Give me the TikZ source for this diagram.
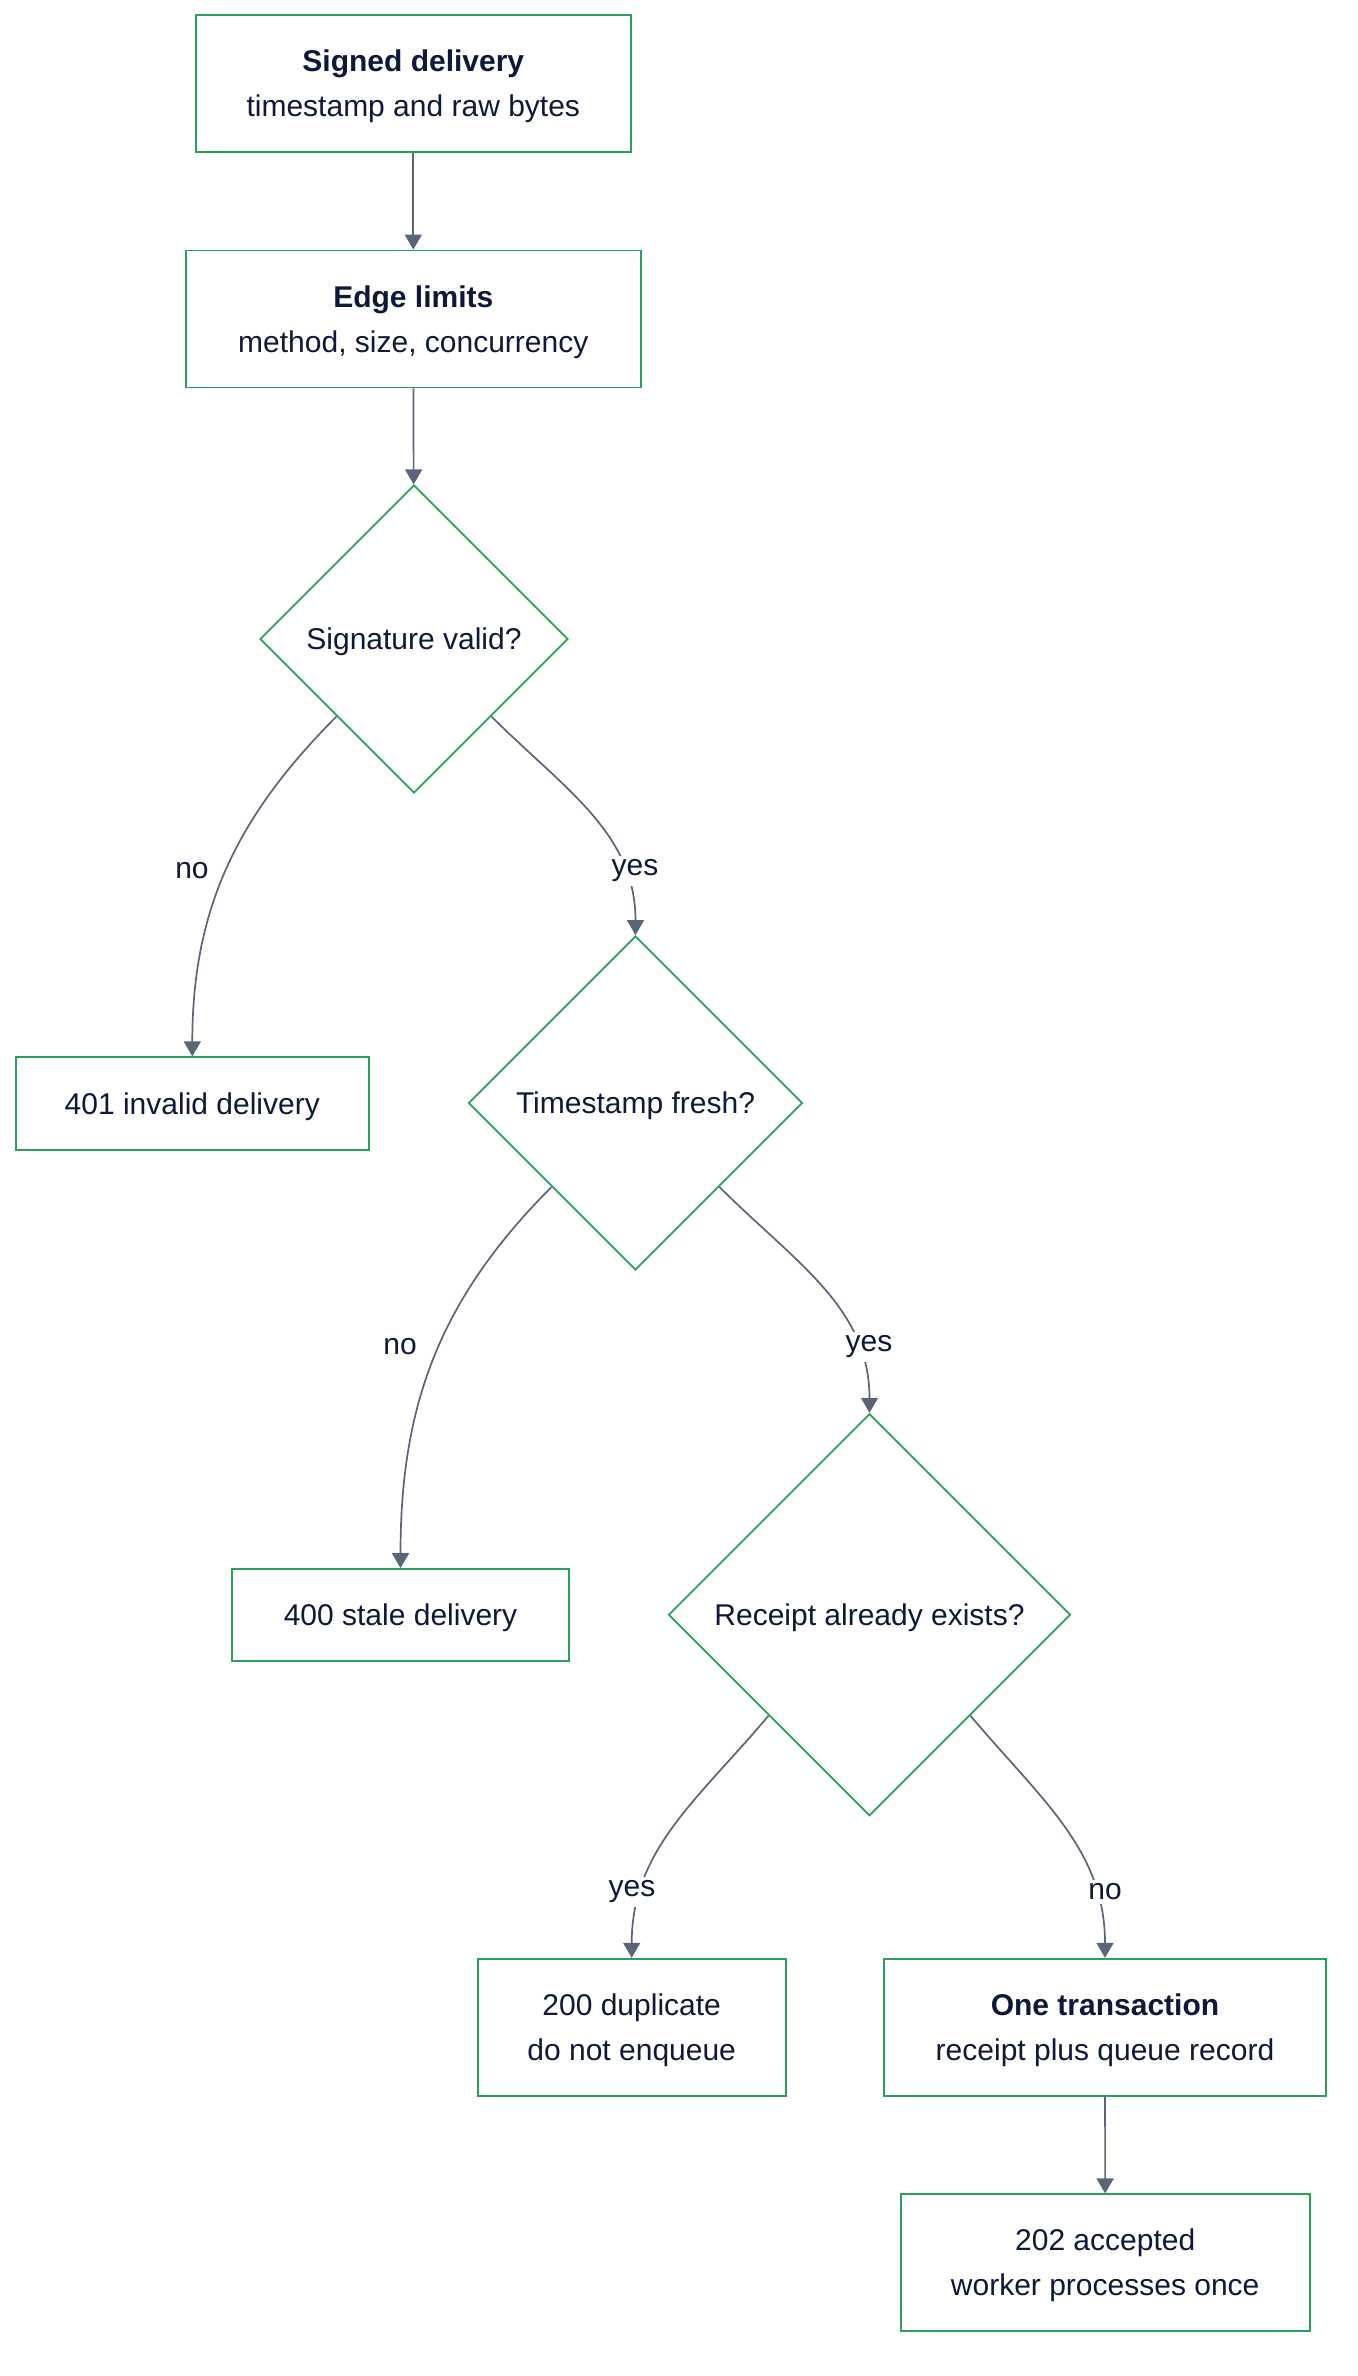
\documentclass[tikz,border=0pt]{standalone}
\usepackage{fontspec}
\setmainfont{Liberation Sans}
\usepackage{xcolor}
\usepackage{tikz}
\usetikzlibrary{shapes,arrows.meta,positioning}

\definecolor{boxgreen}{HTML}{2AA15A}
\definecolor{edgegray}{HTML}{5C6577}
\definecolor{inkblue}{HTML}{0E1838}

\begin{document}
\begin{tikzpicture}[x=0.5pt, y=-0.5pt,
    every node/.style={font=\fontsize{15}{22.5}\selectfont, text=inkblue},
    block/.style={draw=boxgreen, line width=0.9pt, rectangle, align=center, inner sep=0pt, text depth=-1pt},
    check/.style={draw=boxgreen, line width=0.9pt, diamond, aspect=1, inner sep=0pt, text depth=-1pt},
    flow/.style={draw=edgegray, line width=0.85pt, -{Triangle[length=7.5pt, width=8.5pt]}},
    tag/.style={fill=white, inner sep=2pt}]
    \useasboundingbox (0,0) rectangle (1358,2376);

    \node[block, minimum width=217.5pt, minimum height=68.5pt] (signed) at (413.3,83.6) {\textbf{Signed delivery}\\timestamp and raw bytes};
    \node[block, minimum width=227.5pt, minimum height=68.5pt] (limits) at (413.3,319) {\textbf{Edge limits}\\method, size, concurrency};
    \node[check, minimum size=154pt] (sigok) at (414,639) {Signature valid?};
    \node[block, minimum width=176.7pt, minimum height=46.2pt] (bad401) at (192.3,1103.5) {401 invalid delivery};
    \node[check, minimum size=167pt] (fresh) at (635.5,1103) {Timestamp fresh?};
    \node[block, minimum width=168.8pt, minimum height=46pt] (stale400) at (400.5,1615) {400 stale delivery};
    \node[check, minimum size=201pt] (receipt) at (869.5,1614.7) {Receipt already exists?};
    \node[block, minimum width=154pt, minimum height=68.5pt] (dup200) at (631.7,2027.2) {200 duplicate\\do not enqueue};
    \node[block, minimum width=221.3pt, minimum height=68.5pt] (txn) at (1105,2027.2) {\textbf{One transaction}\\receipt plus queue record};
    \node[block, minimum width=204.5pt, minimum height=68.2pt] (ok202) at (1105.2,2262.5) {202 accepted\\worker processes once};

    \draw[flow] (signed) -- (limits);
    \draw[flow] (limits) -- (sigok);
    \draw[flow] (sigok.south west) to[out=-135, in=90] (bad401.north);
    \draw[flow] (sigok.south east) to[out=-45, in=90] (fresh.north);
    \draw[flow] (fresh.south west) to[out=-135, in=90] (stale400.north);
    \draw[flow] (fresh.south east) to[out=-45, in=90] (receipt.north);
    \draw[flow] (receipt.south west) to[out=-130, in=90] (dup200.north);
    \draw[flow] (receipt.south east) to[out=-50, in=90] (txn.north);
    \draw[flow] (txn) -- (ok202);

    \node[tag] (no1) at (192,871) {no};
    \node[tag] (yes1) at (635,871) {yes};
    \node[tag] (no2) at (400,1347) {no};
    \node[tag] (yes2) at (869,1347) {yes};
    \node[tag] (yes3) at (632,1892) {yes};
    \node[tag] (no3) at (1105,1892) {no};
\end{tikzpicture}
\end{document}
